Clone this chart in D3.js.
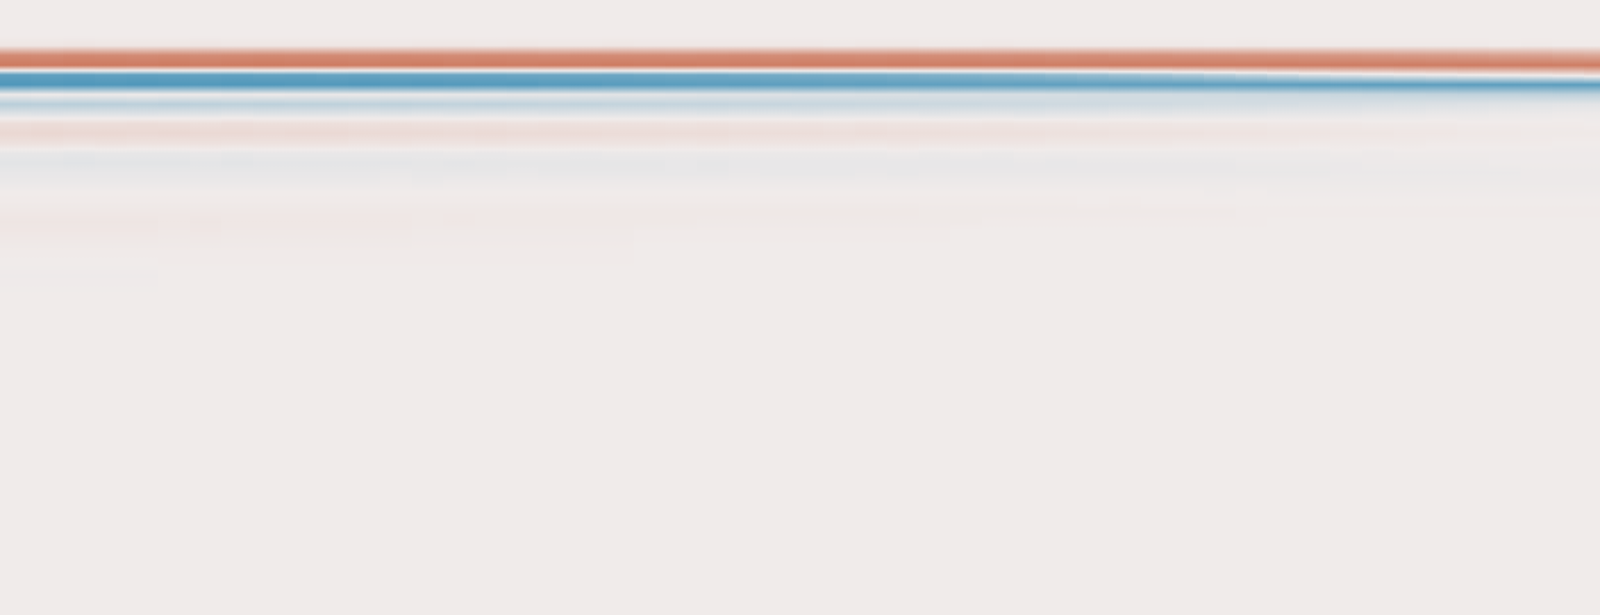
<!DOCTYPE html>
<html>
<head>
<meta charset="utf-8">
<script src="https://cdn.jsdelivr.net/npm/d3@7"></script>
<style>
  html, body { margin: 0; padding: 0; background: #f0ebea; overflow: hidden; width: 100%; height: 100%; }
  #chart { width: 100%; height: 100%; }
  svg { display: block; }
</style>
</head>
<body>
<div id="chart"></div>
<script>
// ---- categories (columns) ----
const years = [1974,1975,1976,1977,1978,1979,1980,1981,1982,1983,1984,1985,1986,1987,1988,1989,1990,1991,1992,1993,1994,1995,1996,1997,1998,1999,2000,2001,2002,2003,2004,2005,2006,2007,2008,2009,2010,2011,2012,2013,2014,2015,2016,2017,2018,2019,2020,2021,2022,2023,2024];

// ---- depth levels (rows) ----
const depths = [30,40,50,60,70,80,90,100,110,120,130,140,150,160,170,180,190,200,210,220,230,250,275,300];

// ---- anomaly values per depth level, one value per year ----
const d30 = [0,0,0,0,0,0,0,0,0,0, 0,0,0,0,0,0,0,0,0,0, 0,0,0,0,0,0,0,0,0,0, 0,0,0,0,0,0,0,0,0,0, 0,0,0,0,0,0,0,0,0,0, 0];
const d40 = [0.05,0.05,0.06,0.05,0.05,0.05,0.06,0.05,0.05,0.05, 0.05,0.05,0.04,0.05,0.05,0.04,0.05,0.04,0.04,0.05, 0.04,0.04,0.04,0.04,0.04,0.04,0.03,0.04,0.04,0.03, 0.03,0.04,0.03,0.03,0.03,0.03,0.03,0.03,0.02,0.03, 0.02,0.02,0.02,0.02,0.02,0.02,0.02,0.01,0.02,0.01, 0.01];
const d50 = [0.86,0.85,0.87,0.86,0.85,0.86,0.84,0.85,0.86,0.85, 0.85,0.84,0.86,0.85,0.84,0.85,0.84,0.83,0.85,0.84, 0.84,0.83,0.84,0.85,0.83,0.84,0.83,0.82,0.83,0.82, 0.82,0.81,0.82,0.80,0.81,0.79,0.80,0.78,0.78,0.77, 0.76,0.75,0.74,0.73,0.71,0.70,0.68,0.66,0.65,0.62, 0.60];
const d60 = [1.00,0.99,1.00,1.00,0.99,1.00,0.98,0.99,1.00,0.99, 0.99,0.98,0.99,1.00,0.98,0.99,0.98,0.99,0.98,0.99, 0.98,0.99,0.98,0.98,0.97,0.98,0.98,0.97,0.98,0.97, 0.98,0.97,0.98,0.97,0.97,0.98,0.97,0.98,0.97,0.97, 0.98,0.97,0.98,0.97,0.98,0.97,0.98,0.97,0.98,0.97, 0.98];
const d70 = [-0.86,-0.85,-0.86,-0.84,-0.85,-0.84,-0.83,-0.84,-0.82,-0.83, -0.81,-0.82,-0.80,-0.80,-0.79,-0.80,-0.78,-0.78,-0.77,-0.78, -0.76,-0.75,-0.76,-0.74,-0.73,-0.72,-0.71,-0.70,-0.68,-0.66, -0.64,-0.62,-0.60,-0.56,-0.53,-0.49,-0.45,-0.40,-0.34,-0.28, -0.22,-0.16,-0.12,-0.09,-0.06,-0.03,0.00,0.02,0.04,0.07, 0.12];
const d80 = [-0.96,-0.95,-0.96,-0.95,-0.96,-0.95,-0.94,-0.95,-0.95,-0.94, -0.94,-0.95,-0.93,-0.94,-0.93,-0.92,-0.93,-0.91,-0.92,-0.90, -0.90,-0.89,-0.88,-0.89,-0.87,-0.87,-0.86,-0.87,-0.86,-0.86, -0.86,-0.85,-0.86,-0.86,-0.85,-0.86,-0.86,-0.87,-0.86,-0.87, -0.87,-0.88,-0.87,-0.88,-0.88,-0.87,-0.88,-0.88,-0.87,-0.88, -0.88];
const d90 = [-0.02,-0.01,-0.02,-0.02,-0.01,-0.02,-0.02,-0.03,-0.02,-0.03, -0.03,-0.03,-0.04,-0.04,-0.05,-0.05,-0.06,-0.06,-0.07,-0.08, -0.08,-0.09,-0.10,-0.10,-0.11,-0.12,-0.12,-0.13,-0.13,-0.14, -0.14,-0.15,-0.15,-0.16,-0.17,-0.18,-0.18,-0.19,-0.20,-0.21, -0.22,-0.23,-0.24,-0.25,-0.26,-0.27,-0.28,-0.28,-0.29,-0.30, -0.30];
const d100 = [-0.33,-0.32,-0.33,-0.32,-0.31,-0.32,-0.31,-0.30,-0.31,-0.30, -0.30,-0.29,-0.30,-0.29,-0.28,-0.29,-0.28,-0.27,-0.28,-0.27, -0.27,-0.26,-0.26,-0.25,-0.25,-0.24,-0.24,-0.23,-0.23,-0.22, -0.22,-0.21,-0.21,-0.20,-0.20,-0.19,-0.19,-0.18,-0.17,-0.17, -0.16,-0.15,-0.15,-0.14,-0.13,-0.12,-0.11,-0.10,-0.09,-0.08, -0.08];
const d110 = [-0.10,-0.11,-0.10,-0.10,-0.11,-0.10,-0.10,-0.09,-0.10,-0.10, -0.10,-0.09,-0.10,-0.09,-0.10,-0.09,-0.09,-0.10,-0.09,-0.09, -0.09,-0.09,-0.10,-0.09,-0.09,-0.10,-0.09,-0.09,-0.08,-0.09, -0.08,-0.08,-0.09,-0.08,-0.08,-0.07,-0.08,-0.07,-0.07,-0.07, -0.06,-0.06,-0.06,-0.05,-0.05,-0.04,-0.04,-0.03,-0.03,-0.02, -0.02];
const d120 = [0.12,0.13,0.12,0.12,0.13,0.12,0.11,0.12,0.11,0.11, 0.11,0.10,0.11,0.10,0.10,0.10,0.09,0.10,0.09,0.09, 0.09,0.08,0.09,0.08,0.08,0.08,0.07,0.08,0.07,0.07, 0.06,0.07,0.06,0.06,0.05,0.05,0.05,0.04,0.04,0.04, 0.03,0.03,0.03,0.02,0.02,0.02,0.01,0.01,0.01,0.01, 0.00];
const d130 = [0.17,0.18,0.17,0.17,0.16,0.17,0.16,0.16,0.15,0.16, 0.16,0.15,0.15,0.15,0.14,0.15,0.14,0.14,0.14,0.13, 0.13,0.13,0.13,0.12,0.12,0.12,0.11,0.12,0.11,0.11, 0.10,0.10,0.10,0.09,0.09,0.08,0.08,0.08,0.07,0.07, 0.06,0.06,0.05,0.05,0.04,0.04,0.03,0.03,0.02,0.02, 0.02];
const d140 = [0.09,0.09,0.08,0.09,0.08,0.08,0.09,0.08,0.08,0.08, 0.08,0.07,0.08,0.07,0.07,0.08,0.07,0.07,0.07,0.07, 0.07,0.06,0.07,0.06,0.06,0.06,0.06,0.05,0.06,0.05, 0.05,0.05,0.05,0.04,0.04,0.04,0.04,0.03,0.03,0.03, 0.03,0.02,0.02,0.02,0.02,0.01,0.01,0.01,0.01,0.00, 0.00];
const d150 = [-0.05,-0.05,-0.06,-0.05,-0.05,-0.05,-0.04,-0.05,-0.04,-0.04, -0.04,-0.04,-0.04,-0.04,-0.03,-0.04,-0.03,-0.03,-0.04,-0.03, -0.03,-0.03,-0.03,-0.03,-0.03,-0.03,-0.03,-0.03,-0.02,-0.03, -0.02,-0.03,-0.02,-0.02,-0.02,-0.02,-0.02,-0.02,-0.02,-0.02, -0.02,-0.02,-0.01,-0.02,-0.01,-0.01,-0.01,-0.01,-0.01,-0.01, -0.01];
const d160 = [-0.08,-0.08,-0.09,-0.08,-0.08,-0.08,-0.07,-0.08,-0.07,-0.07, -0.07,-0.07,-0.07,-0.06,-0.07,-0.06,-0.06,-0.06,-0.06,-0.06, -0.06,-0.05,-0.06,-0.05,-0.05,-0.05,-0.05,-0.05,-0.05,-0.05, -0.05,-0.05,-0.04,-0.05,-0.04,-0.04,-0.04,-0.04,-0.04,-0.03, -0.03,-0.03,-0.03,-0.02,-0.02,-0.02,-0.02,-0.01,-0.01,-0.01, -0.01];
const d170 = [-0.05,-0.05,-0.05,-0.05,-0.05,-0.05,-0.05,-0.05,-0.05,-0.05, -0.05,-0.05,-0.04,-0.05,-0.05,-0.05,-0.04,-0.05,-0.05,-0.05, -0.05,-0.05,-0.05,-0.04,-0.05,-0.05,-0.05,-0.04,-0.05,-0.04, -0.04,-0.04,-0.04,-0.04,-0.04,-0.04,-0.04,-0.04,-0.04,-0.04, -0.04,-0.04,-0.03,-0.03,-0.03,-0.03,-0.03,-0.03,-0.02,-0.02, -0.02];
const d180 = [-0.03,-0.03,-0.03,-0.03,-0.03,-0.03,-0.03,-0.03,-0.03,-0.03, -0.03,-0.03,-0.02,-0.03,-0.02,-0.02,-0.02,-0.02,-0.02,-0.02, -0.02,-0.02,-0.02,-0.02,-0.02,-0.02,-0.02,-0.02,-0.02,-0.02, -0.02,-0.02,-0.02,-0.02,-0.02,-0.02,-0.02,-0.02,-0.02,-0.02, -0.02,-0.02,-0.02,-0.02,-0.02,-0.02,-0.02,-0.02,-0.02,-0.02, -0.02];
const d190 = [0,0,0,0,0,0,0,0,0,0, 0,0,0,0,0,0,0,0,0,0, 0,0,0,0,0,0,0,0,0,0, 0,0,0,0,0,0,0,0,-0.01,0, -0.01,-0.01,-0.01,-0.01,-0.01,-0.01,-0.01,-0.01,-0.01,-0.01, -0.01];
const d200 = [0.01,0.01,0.01,0.01,0.01,0.01,0.01,0.01,0.01,0.01, 0.01,0.01,0.01,0.01,0.01,0.01,0.01,0.01,0.01,0.01, 0.01,0.01,0.01,0.01,0.01,0.01,0.01,0.01,0.01,0.01, 0.01,0.01,0.01,0.01,0.00,0.01,0.00,0.00,0.00,0.00, 0,0,0,0,0,0,0,0,0,0, 0];
const d210 = [0.03,0.03,0.03,0.03,0.03,0.03,0.03,0.03,0.03,0.03, 0.03,0.03,0.03,0.03,0.03,0.03,0.03,0.03,0.03,0.03, 0.03,0.03,0.03,0.03,0.03,0.03,0.03,0.03,0.03,0.02, 0.02,0.02,0.02,0.02,0.02,0.02,0.02,0.02,0.02,0.01, 0.01,0.01,0.01,0.01,0.01,0.01,0.01,0.01,0.01,0.01, 0.01];
const d220 = [0.05,0.05,0.05,0.05,0.05,0.04,0.05,0.04,0.04,0.04, 0.04,0.04,0.04,0.03,0.04,0.03,0.03,0.03,0.03,0.03, 0.03,0.03,0.02,0.02,0.02,0.02,0.02,0.02,0.02,0.02, 0.02,0.01,0.01,0.01,0.01,0.01,0.01,0.01,0.01,0.01, 0,0,0,0,0,0,0,0,0,0, 0];
const d230 = [0.04,0.04,0.04,0.04,0.04,0.03,0.04,0.03,0.03,0.03, 0.03,0.03,0.03,0.02,0.02,0.02,0.02,0.02,0.02,0.02, 0.01,0.01,0.01,0.01,0.01,0.01,0.01,0.01,0.01,0.01, 0,0,0,0,0,0,0,0,0,0, 0,0,0,0,0,0,0,0,0,0, 0];
const d250 = [0.01,0.01,0.01,0.01,0.01,0.01,0.01,0.01,0.01,0.01, 0.01,0.01,0.01,0.01,0.01,0.01,0.01,0.01,0.01,0.01, 0,0,0,0,0,0,0,0,0,0, 0,0,0,0,0,0,0,0,0,0, 0,0,0,0,0,0,0,0,0,0, 0];
const d275 = [-0.01,-0.01,-0.01,-0.01,-0.01,0,0,0,0,0, 0,0,0,0,0,0,0,0,0,0, 0,0,0,0,0,0,0,0,0,0, 0,0,0,0,0,0,0,0,0,0, 0,0,0,0,0,0,0,0,0,0, 0];
const d300 = [0,0,0,0,0,0,0,0,0,0, 0,0,0,0,0,0,0,0,0,0, 0,0,0,0,0,0,0,0,0,0, 0,0,0,0,0,0,0,0,0,0, 0,0,0,0,0,0,0,0,0,0, 0];

const rows = [d30,d40,d50,d60,d70,d80,d90,d100,d110,d120,d130,d140,d150,d160,d170,d180,d190,d200,d210,d220,d230,d250,d275,d300];

// ---- layout (design space, stretched to the window) ----
const W = 7132, H = 1575;

const x = d3.scaleBand().domain(years).range([-1.2, 7202.2]).paddingInner(0).paddingOuter(0);
const y = d3.scaleLinear().domain([0, 630]).range([17, 1592]);
const color = d3.scaleLinear()
  .domain([-1, 0, 1])
  .range(["#4893b8", "#f0ebea", "#cd7a60"])
  .interpolate(d3.interpolateRgb)
  .clamp(true);

const vw = window.innerWidth || W;
const vh = window.innerHeight || H;

const svg = d3.select("#chart").append("svg")
  .attr("width", vw).attr("height", vh)
  .attr("viewBox", `0 0 ${W} ${H}`)
  .attr("preserveAspectRatio", "none");

svg.append("rect").attr("width", W).attr("height", H).attr("fill", color(0));

const defs = svg.append("defs");
const SUB = 12;

years.forEach((yr, i) => {
  const g = defs.append("linearGradient")
    .attr("id", "col" + i)
    .attr("gradientUnits", "userSpaceOnUse")
    .attr("x1", 0).attr("x2", 0)
    .attr("y1", 0).attr("y2", H);
  const stops = [];
  for (let r = 0; r < depths.length; r++) {
    const v0 = rows[r][i];
    const y0 = y(depths[r]);
    if (r === depths.length - 1) {
      stops.push([y0, v0]);
      break;
    }
    const v1 = rows[r + 1][i];
    const y1 = y(depths[r + 1]);
    for (let s = 0; s < SUB; s++) {
      const t = s / SUB;
      stops.push([y0 + (y1 - y0) * t, v0 + (v1 - v0) * t]);
    }
  }
  stops.forEach(([py, v]) => {
    g.append("stop")
      .attr("offset", Math.max(0, Math.min(1, py / H)))
      .attr("stop-color", color(v));
  });
});

svg.append("g")
  .selectAll("rect")
  .data(years)
  .join("rect")
  .attr("x", d => x(d))
  .attr("y", 0)
  .attr("width", x.bandwidth() + 1)
  .attr("height", H)
  .attr("shape-rendering", "crispEdges")
  .attr("fill", (d, i) => `url(#col${i})`);
</script>
</body>
</html>
